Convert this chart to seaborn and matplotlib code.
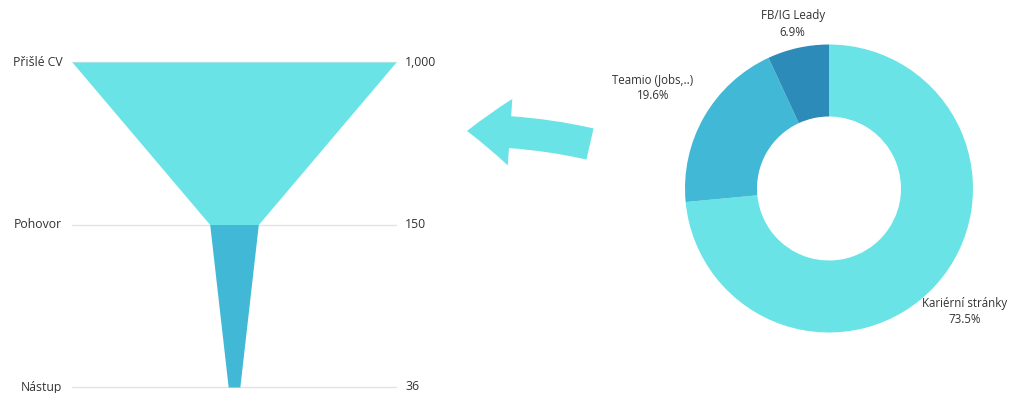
import numpy as np
import matplotlib.pyplot as plt
import matplotlib.patches as mpatches
import seaborn as sns

# funnel data
stages = ["Přišlé CV", "Pohovor", "Nástup"]
stage_values = [1000, 150, 36]

# donut data (share of incoming CVs by source)
sources = ["Kariérní stránky", "Teamio (Jobs,..)", "FB/IG Leady"]
source_shares = [73.5, 19.6, 6.9]

sns.set_theme(style="white")
plt.rcParams["font.family"] = ["Open Sans", "DejaVu Sans"]

text_color = "#333333"
funnel_colors = ["#6ae3e6", "#41b8d5"]
donut_colors = ["#6ae3e6", "#41b8d5", "#2d8bba"]

fig = plt.figure(figsize=(10.1, 3.93), dpi=100)

# ---- funnel ----
ax = fig.add_axes([72 / 1010, 6 / 393, 324 / 1010, 325 / 393])
half_max = max(stage_values) / 2
ax.set_xlim(-half_max, half_max)
ax.set_ylim(len(stages) - 1, 0)
for i, name in enumerate(stages):
    ax.axhline(i, color="#e3e3e3", lw=1, zorder=0, clip_on=False)
    ax.annotate(name, xy=(0, i), xycoords=("axes fraction", "data"),
                xytext=(-7, 0), textcoords="offset points",
                ha="right", va="center", fontsize=8.8, color=text_color)
    ax.annotate(f"{stage_values[i]:,}", xy=(1, i), xycoords=("axes fraction", "data"),
                xytext=(6.5, 0), textcoords="offset points",
                ha="left", va="center", fontsize=8.8, color=text_color)
for i in range(len(stages) - 1):
    w = np.array([stage_values[i], stage_values[i + 1]]) / 2
    ax.fill_betweenx([i, i + 1], -w, w, color=funnel_colors[i], lw=0, zorder=2)
ax.axis("off")

# ---- donut ----
pax = fig.add_axes([649 / 1010, 24.5 / 393, 360 / 1010, 360 / 393])
wedges, _ = pax.pie(source_shares, colors=donut_colors, startangle=90,
                    counterclock=False, wedgeprops=dict(width=0.5, lw=0))
pax.set_xlim(-1.25, 1.25)
pax.set_ylim(-1.25, 1.25)
pax.set_aspect("equal")
label_radius = [1.27, 1.41, 1.17]
for wdg, name, share, r in zip(wedges, sources, source_shares, label_radius):
    ang = np.deg2rad((wdg.theta1 + wdg.theta2) / 2)
    pax.text(r * np.cos(ang), r * np.sin(ang), f"{name}\n{share:.1f}%",
             ha="center", va="center", fontsize=8.3, color=text_color,
             linespacing=1.35, clip_on=False)

# ---- connecting arrow ----
arrow = mpatches.FancyArrowPatch(
    posA=(590 / 1010, 1 - 144 / 393), posB=(467 / 1010, 1 - 131 / 393),
    transform=fig.transFigure, connectionstyle="arc3,rad=0.06",
    arrowstyle="simple,head_length=31,head_width=48,tail_width=23",
    shrinkA=0, shrinkB=0, color="#6ae3e6", lw=0)
fig.add_artist(arrow)

fig.savefig("out.png", dpi=100)
